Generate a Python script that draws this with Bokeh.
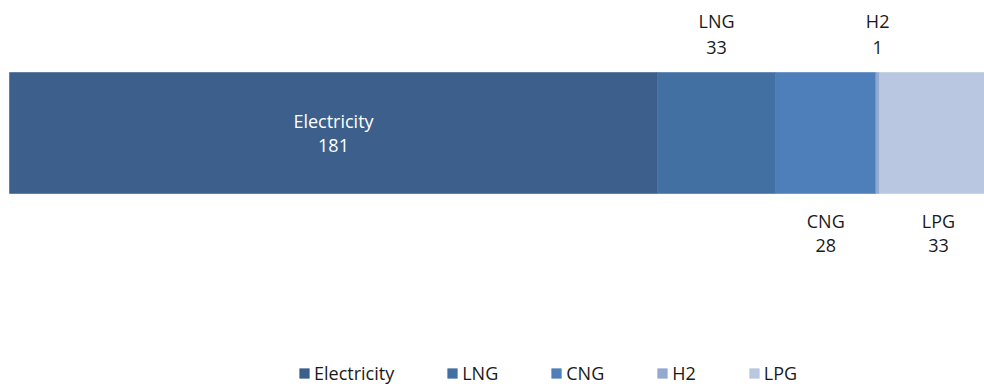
import numpy as np
from bokeh.plotting import figure
from bokeh.models import ColumnDataSource, Legend, LegendItem, Range1d
from bokeh.core.properties import value
from bokeh.embed import file_html
from bokeh.resources import INLINE

categories = ["Electricity", "LNG", "CNG", "H2", "LPG"]
values = [181, 33, 28, 1, 33]
colors = ["#3c5f8c", "#4370a3", "#4e7fba", "#93a9d0", "#bac7e0"]

FONT = "Open Sans"
FS = "18px"
s = 3.58  # px per unit
x0 = -9 / s
p = figure(width=984, height=386, output_backend="svg", toolbar_location=None,
           x_range=Range1d(x0, x0 + 984 / s),
           y_range=Range1d(-0.5 - (386 - 193) / 121, 0.5 + 72 / 121),
           min_border=0, min_border_left=0, min_border_right=0,
           min_border_top=0, min_border_bottom=0)
p.axis.visible = False
p.grid.visible = False
p.outline_line_color = None
p.background_fill_color = "white"
p.border_fill_color = "white"

vals = np.array(values, dtype=float)
ends = np.cumsum(vals)
starts = ends - vals
centers = starts + vals / 2

items = []
for i, cat in enumerate(categories):
    r = p.hbar(y=0, left=starts[i], right=ends[i], height=1, fill_color=colors[i],
               line_color=colors[i], line_width=0.6)
    items.append(LegendItem(label=cat, renderers=[r]))

# label placement: inside for first, then alternating above / below
pos = ["inside", "above", "below", "above", "below"]
for i, cat in enumerate(categories):
    if pos[i] == "inside":
        y, o1, o2, col = 0, -12, 12, "white"
    elif pos[i] == "above":
        y, o1, o2, col = 0.5, -52, -25, "#1a1a1a"
    else:
        y, o1, o2, col = -0.5, 27, 52, "#1a1a1a"
    p.text(x=[centers[i]], y=[y], text=[cat], y_offset=o1, text_align="center",
           text_baseline="middle", text_font=value(FONT), text_font_size=FS, text_color=col)
    p.text(x=[centers[i]], y=[y], text=[str(values[i])], y_offset=o2, text_align="center",
           text_baseline="middle", text_font=value(FONT), text_font_size=FS, text_color=col)

legend = Legend(items=items, orientation="horizontal", location=(298, 1),
                glyph_width=12, glyph_height=12, label_standoff=4, spacing=52,
                padding=0, margin=0, border_line_color=None, background_fill_alpha=0,
                label_text_font=FONT, label_text_font_size=FS, label_text_color="#1a1a1a")
p.add_layout(legend)

open("out.html", "w").write(file_html(p, INLINE))
